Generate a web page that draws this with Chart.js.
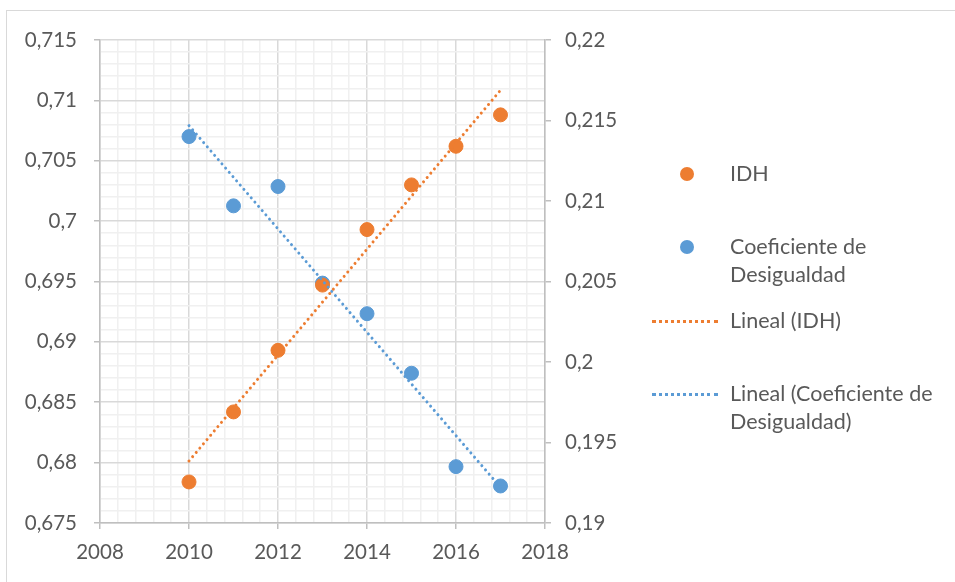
<!DOCTYPE html>
<html>
<head>
<meta charset="utf-8">
<script src="https://cdn.jsdelivr.net/npm/chart.js@4"></script>
<style>
  body { margin: 0; background: #fff; }
  #wrap { position: relative; width: 955px; height: 582px; overflow: hidden; }
  #frame { position: absolute; left: 6px; top: 10px; width: 960px; height: 600px; border-left: 1px solid #d9d9d9; border-top: 1px solid #d9d9d9; }
  #leyenda { position: absolute; left: 0; top: 0; font-family: Lato, "Open Sans", sans-serif; font-size: 21.5px; color: #595959; }
  .item { position: absolute; left: 730px; line-height: 28px; white-space: nowrap; }
  .dot { position: absolute; width: 14px; height: 14px; border-radius: 50%; }
  .dash { position: absolute; width: 66px; height: 0; border-top: 3px dotted; }
</style>
</head>
<body>
<div id="wrap">
  <div id="frame"></div>
  <canvas id="grafico" width="955" height="582" style="position:relative"></canvas>
  <div id="leyenda">
    <div class="dot" style="left:680px;top:167px;background:#ED7D31"></div>
    <div class="item" style="top:159px">IDH</div>
    <div class="dot" style="left:680px;top:240px;background:#5B9BD5"></div>
    <div class="item" style="top:232px">Coeficiente de<br>Desigualdad</div>
    <div class="dash" style="left:652px;top:320px;color:#ED7D31"></div>
    <div class="item" style="top:306px">Lineal (IDH)</div>
    <div class="dash" style="left:652px;top:393px;color:#5B9BD5"></div>
    <div class="item" style="top:379px">Lineal (Coeficiente de<br>Desigualdad)</div>
  </div>
</div>
<script>
const anios = [2010, 2011, 2012, 2013, 2014, 2015, 2016, 2017];
const idh = [0.6784, 0.6842, 0.6893, 0.6947, 0.6993, 0.7030, 0.7062, 0.7088];
const desigualdad = [0.2140, 0.2097, 0.2109, 0.2049, 0.2030, 0.1993, 0.1935, 0.1923];

const COLOR_IDH = '#ED7D31';
const COLOR_DES = '#5B9BD5';

// recta de minimos cuadrados (linea de tendencia de Excel)
function tendencia(xs, ys) {
    const n = xs.length;
    const mx = xs.reduce((a, b) => a + b, 0) / n;
    const my = ys.reduce((a, b) => a + b, 0) / n;
    let sxy = 0, sxx = 0;
    for (let i = 0; i < n; i++) {
        sxy += (xs[i] - mx) * (ys[i] - my);
        sxx += (xs[i] - mx) * (xs[i] - mx);
    }
    const m = sxy / sxx;
    const b = my - m * mx;
    const x0 = xs[0], x1 = xs[n - 1];
    return [{ x: x0, y: m * x0 + b }, { x: x1, y: m * x1 + b }];
}

function puntos(xs, ys) {
    return xs.map((x, i) => ({ x: x, y: ys[i] }));
}

function coma(v, dec) {
    return String(Number(v.toFixed(dec))).replace('.', ',');
}

function esMultiplo(v, paso) {
    const q = v / paso;
    return Math.abs(q - Math.round(q)) < 1e-6;
}

const fuente = { family: 'Lato, "Open Sans", sans-serif', size: 20.5 };

const lineaPunteada = {
    type: 'scatter',
    showLine: true,
    pointRadius: 0,
    borderWidth: 3,
    borderDash: [0.01, 5.6],
    borderCapStyle: 'round',
    fill: false
};

new Chart(document.getElementById('grafico'), {
    type: 'scatter',
    data: {
        datasets: [
            Object.assign({}, lineaPunteada, {
                label: 'Lineal (IDH)', data: tendencia(anios, idh),
                borderColor: COLOR_IDH, yAxisID: 'y'
            }),
            Object.assign({}, lineaPunteada, {
                label: 'Lineal (Coeficiente de Desigualdad)', data: tendencia(anios, desigualdad),
                borderColor: COLOR_DES, yAxisID: 'y2'
            }),
            {
                label: 'IDH', data: puntos(anios, idh),
                backgroundColor: COLOR_IDH, borderColor: COLOR_IDH,
                pointRadius: 7, yAxisID: 'y'
            },
            {
                label: 'Coeficiente de Desigualdad', data: puntos(anios, desigualdad),
                backgroundColor: COLOR_DES, borderColor: COLOR_DES,
                pointRadius: 7, yAxisID: 'y2'
            }
        ]
    },
    options: {
        responsive: false,
        animation: false,
        layout: { padding: { left: 10, top: 40, right: 330, bottom: 0 } },
        plugins: { legend: { display: false }, tooltip: { enabled: false } },
        scales: {
            x: {
                type: 'linear', min: 2008, max: 2018,
                afterBuildTicks: (s) => {
                    s.ticks = [];
                    for (let i = 0; i <= 25; i++) s.ticks.push({ value: 2008 + i * 0.4 });
                },
                afterFit: (s) => { s.height = 59; },
                ticks: {
                    autoSkip: false, maxRotation: 0, padding: 11,
                    color: '#595959', font: fuente,
                    callback: (v) => esMultiplo(v - 2008, 2) ? String(Math.round(v)) : ''
                },
                grid: {
                    tickLength: 6,
                    color: (c) => esMultiplo(c.tick.value - 2008, 2) ? '#d9d9d9' : '#f0f0f0',
                    tickColor: (c) => esMultiplo(c.tick.value - 2008, 2) ? '#bfbfbf' : 'rgba(0,0,0,0)',
                    lineWidth: 1.5
                },
                border: { color: '#bfbfbf', width: 1.5 }
            },
            y: {
                position: 'left', min: 0.675, max: 0.715,
                afterBuildTicks: (s) => {
                    s.ticks = [];
                    for (let i = 0; i <= 40; i++) s.ticks.push({ value: 0.675 + i * 0.001 });
                },
                afterFit: (s) => { s.width = 90; },
                ticks: {
                    autoSkip: false, padding: 17,
                    color: '#595959', font: fuente,
                    callback: (v) => esMultiplo(v, 0.005) ? coma(v, 3) : ''
                },
                grid: {
                    tickLength: 6,
                    color: (c) => esMultiplo(c.tick.value, 0.005) ? '#d9d9d9' : '#f0f0f0',
                    tickColor: (c) => esMultiplo(c.tick.value, 0.005) ? '#bfbfbf' : 'rgba(0,0,0,0)',
                    lineWidth: 1.5
                },
                border: { color: '#bfbfbf', width: 1.5 }
            },
            y2: {
                position: 'right', min: 0.19, max: 0.22,
                afterBuildTicks: (s) => {
                    s.ticks = [];
                    for (let i = 0; i <= 6; i++) s.ticks.push({ value: 0.19 + i * 0.005 });
                },
                afterFit: (s) => { s.width = 80; },
                ticks: {
                    autoSkip: false, padding: 14,
                    color: '#595959', font: fuente,
                    callback: (v) => coma(v, 3)
                },
                grid: { drawOnChartArea: false, tickLength: 6, tickColor: '#bfbfbf', lineWidth: 1.5 },
                border: { color: '#bfbfbf', width: 1.5 }
            }
        }
    }
});
</script>
</body>
</html>
